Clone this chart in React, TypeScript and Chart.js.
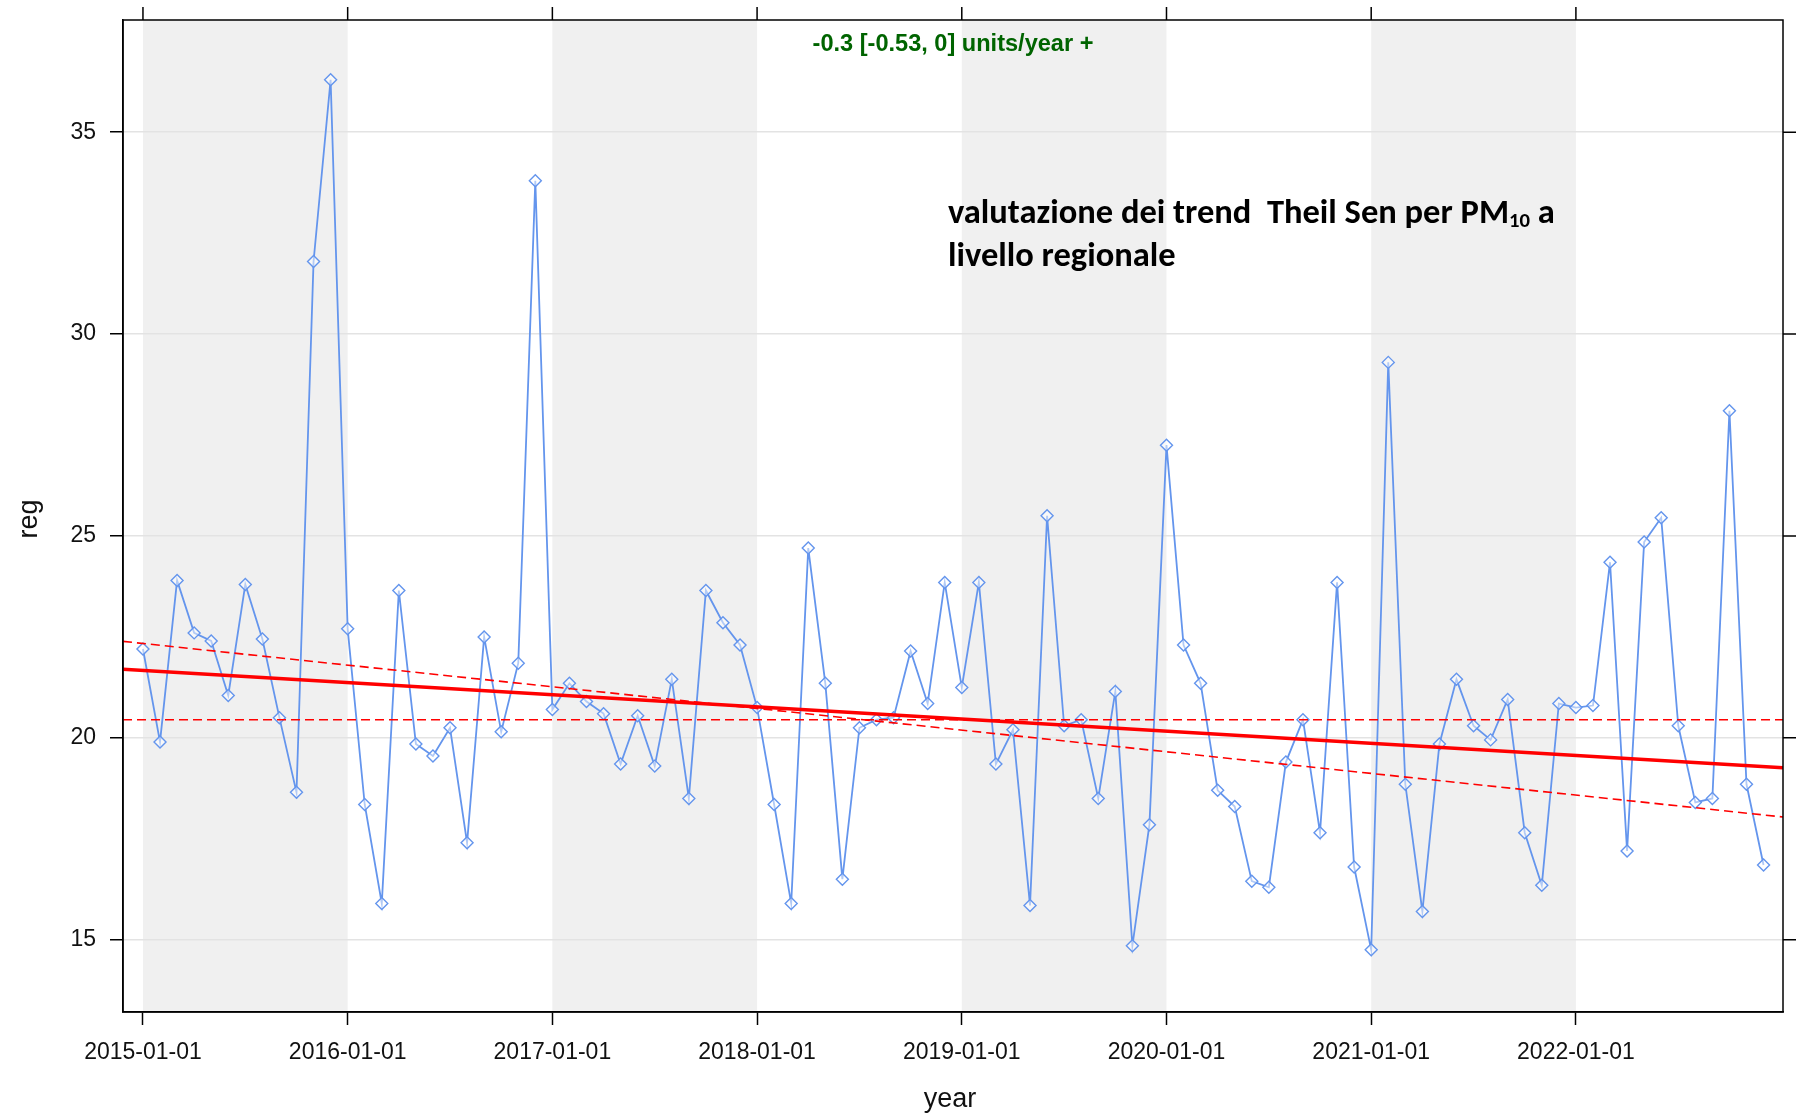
import React, { useEffect, useRef } from 'react';
import { Chart, registerables } from 'chart.js';

Chart.register(...registerables);

// ---- data ----
const years = ['2015', '2016', '2017', '2018', '2019', '2020', '2021', '2022'];
const monthNames = ['01', '02', '03', '04', '05', '06', '07', '08', '09', '10', '11', '12'];

const reg2015 = [22.2, 19.9, 23.9, 22.6, 22.4, 21.05, 23.8, 22.45, 20.5, 18.65, 31.8, 36.3];
const reg2016 = [22.7, 18.35, 15.9, 23.65, 19.85, 19.55, 20.25, 17.4, 22.5, 20.15, 21.85, 33.8];
const reg2017 = [20.7, 21.35, 20.9, 20.6, 19.35, 20.55, 19.3, 21.45, 18.5, 23.65, 22.85, 22.3];
const reg2018 = [20.75, 18.35, 15.9, 24.7, 21.35, 16.5, 20.25, 20.45, 20.5, 22.15, 20.85, 23.85];
const reg2019 = [21.25, 23.85, 19.35, 20.2, 15.85, 25.5, 20.3, 20.45, 18.5, 21.15, 14.85, 17.85];
const reg2020 = [27.25, 22.3, 21.35, 18.7, 18.3, 16.45, 16.3, 19.4, 20.45, 17.65, 23.85, 16.8];
const reg2021 = [14.75, 29.3, 18.85, 15.7, 19.85, 21.45, 20.3, 19.95, 20.95, 17.65, 16.35, 20.85];
const reg2022 = [20.75, 20.8, 24.35, 17.2, 24.85, 25.45, 20.3, 18.4, 18.5, 28.1, 18.85, 16.85];

const regValues = [...reg2015, ...reg2016, ...reg2017, ...reg2018, ...reg2019, ...reg2020, ...reg2021, ...reg2022];
const monthLabels = years.flatMap((y) => monthNames.map((m) => `${y}-${m}`));

const xTickLabels = ['2015-01-01', '2016-01-01', '2017-01-01', '2018-01-01', '2019-01-01', '2020-01-01', '2021-01-01', '2022-01-01'];
const yTicks = [15, 20, 25, 30, 35];
const shadedYears = ['2015', '2017', '2019', '2021'];

// Theil-Sen trend lines: values at the left and right panel edges
const trendFit = [21.7, 19.26];
const trendSlopeLow = [22.39, 18.04];
const trendSlopeHigh = [20.45, 20.45];

const trendLabel = '-0.3 [-0.53, 0] units/year +';
const noteLine1a = 'valutazione dei trend  Theil Sen per PM';
const noteSub = '10';
const noteLine1b = ' a';
const noteLine2 = 'livello regionale';
const xAxisTitle = 'year';
const yAxisTitle = 'reg';

// axis extents (months since Jan 2015, concentration)
const xMin = -1.17;
const xMax = 96.14;
const yMin = 13.21;
const yMax = 37.78;

const SANS = '"Liberation Sans", Arial, sans-serif';
const NOTE_FONT = 'Carlito, Lato, "Open Sans", sans-serif';

const decorPlugin = {
  id: 'decor',
  beforeDraw(chart: any) {
    const { ctx, chartArea: a, scales } = chart;
    const x = scales.x;
    ctx.save();
    ctx.fillStyle = '#ffffff';
    ctx.fillRect(0, 0, chart.width, chart.height);
    ctx.fillStyle = '#f0f0f0';
    shadedYears.forEach((yr) => {
      const i0 = monthLabels.indexOf(`${yr}-01`);
      const x0 = Math.max(x.getPixelForValue(i0), a.left);
      const x1 = Math.min(x.getPixelForValue(i0 + 12), a.right);
      ctx.fillRect(x0, a.top, x1 - x0, a.bottom - a.top);
    });
    ctx.restore();
  },
  afterDraw(chart: any) {
    const { ctx, chartArea: a, scales } = chart;
    const x = scales.x;
    const y = scales.y;
    ctx.save();
    // frame
    ctx.strokeStyle = '#000';
    ctx.lineWidth = 1.5;
    ctx.strokeRect(a.left, a.top, a.right - a.left, a.bottom - a.top);
    // top and right tick marks
    ctx.beginPath();
    x.ticks.forEach((t: any) => {
      const px = x.getPixelForValue(t.value);
      ctx.moveTo(px, a.top);
      ctx.lineTo(px, a.top - 13);
    });
    y.ticks.forEach((t: any) => {
      const py = y.getPixelForValue(t.value);
      ctx.moveTo(a.right, py);
      ctx.lineTo(a.right + 13, py);
    });
    ctx.stroke();

    // trend label
    ctx.fillStyle = '#006400';
    ctx.textAlign = 'center';
    ctx.textBaseline = 'middle';
    ctx.font = `bold 100px ${SANS}`;
    const tw = ctx.measureText(trendLabel).width;
    const tfs = (100 * 281) / tw;
    ctx.font = `bold ${tfs}px ${SANS}`;
    ctx.fillText(trendLabel, (a.left + a.right) / 2, 44);

    // annotation
    ctx.fillStyle = '#000';
    ctx.textAlign = 'left';
    ctx.textBaseline = 'alphabetic';
    ctx.font = `bold 100px ${NOTE_FONT}`;
    const wa = ctx.measureText(noteLine1a).width;
    const wb = ctx.measureText(noteLine1b).width;
    ctx.font = `bold 60px ${NOTE_FONT}`;
    const ws = ctx.measureText(noteSub).width;
    const nfs = (100 * 607) / (wa + wb + ws);
    const nx = 948;
    const b1 = 223;
    const b2 = 266;
    ctx.font = `bold ${nfs}px ${NOTE_FONT}`;
    ctx.fillText(noteLine1a, nx, b1);
    const pa = ctx.measureText(noteLine1a).width;
    ctx.font = `bold ${nfs * 0.6}px ${NOTE_FONT}`;
    ctx.fillText(noteSub, nx + pa, b1 + nfs * 0.12);
    const ps = ctx.measureText(noteSub).width;
    ctx.font = `bold ${nfs}px ${NOTE_FONT}`;
    ctx.fillText(noteLine1b, nx + pa + ps, b1);
    ctx.fillText(noteLine2, nx, b2);

    // axis titles
    ctx.fillStyle = '#111';
    ctx.font = `27px ${SANS}`;
    ctx.textAlign = 'center';
    ctx.textBaseline = 'middle';
    ctx.fillText(xAxisTitle, (a.left + a.right) / 2 - 3, 1100);
    ctx.translate(30, 519);
    ctx.rotate(-Math.PI / 2);
    ctx.fillText(yAxisTitle, 0, 0);
    ctx.restore();
  },
};

export default function App() {
  const canvasRef = useRef<HTMLCanvasElement | null>(null);

  useEffect(() => {
    document.body.style.margin = '0';
    document.body.style.overflow = 'hidden';
    const canvas = canvasRef.current;
    if (!canvas) return;

    const trendDataset = (vals: number[], width: number, dash: number[]) => ({
      data: [
        { x: xMin, y: vals[0] },
        { x: xMax, y: vals[1] },
      ],
      borderColor: '#ff0000',
      borderWidth: width,
      borderDash: dash,
      pointRadius: 0,
      fill: false,
    });

    const chart = new Chart(canvas, {
      type: 'line',
      data: {
        datasets: [
          { ...trendDataset(trendFit, 3.5, []), order: 0 },
          { ...trendDataset(trendSlopeLow, 1.6, [9, 5]), order: 1 },
          { ...trendDataset(trendSlopeHigh, 1.6, [9, 5]), order: 2 },
          {
            data: regValues.map((v, i) => ({ x: i, y: v })),
            borderColor: '#6495ED',
            borderWidth: 1.8,
            pointStyle: 'rectRot',
            pointRadius: 6,
            pointBorderWidth: 1.4,
            pointBorderColor: '#6495ED',
            pointBackgroundColor: 'rgba(255,255,255,0.5)',
            tension: 0,
            fill: false,
            order: 5,
          },
        ],
      },
      options: {
        animation: false,
        responsive: false,
        layout: { padding: { top: 20, right: 16, left: 0, bottom: 0 } },
        plugins: {
          legend: { display: false },
          tooltip: { enabled: false },
          title: { display: false },
        },
        scales: {
          x: {
            type: 'linear',
            min: xMin,
            max: xMax,
            afterBuildTicks: (s: any) => {
              s.ticks = years.map((yr) => ({ value: monthLabels.indexOf(`${yr}-01`) }));
            },
            afterFit: (s: any) => {
              s.height = 102;
              s.paddingLeft = 0;
              s.paddingRight = 0;
            },
            ticks: {
              autoSkip: false,
              maxRotation: 0,
              padding: 14,
              color: '#111',
              font: { family: SANS, size: 23 },
              callback: (v: any) => {
                const lbl = monthLabels[Math.round(Number(v))];
                return lbl ? xTickLabels[years.indexOf(lbl.slice(0, 4))] : '';
              },
            },
            grid: {
              drawOnChartArea: false,
              drawTicks: true,
              tickLength: 13,
              tickColor: '#000',
              tickWidth: 1.5,
            },
            border: { display: true, color: '#000', width: 1.5 },
          },
          y: {
            type: 'linear',
            min: yMin,
            max: yMax,
            afterBuildTicks: (s: any) => {
              s.ticks = yTicks.map((v) => ({ value: v }));
            },
            afterFit: (s: any) => {
              s.width = 123;
              s.paddingTop = 0;
              s.paddingBottom = 0;
            },
            ticks: {
              padding: 14,
              color: '#111',
              font: { family: SANS, size: 23 },
              callback: (v: any) => String(v),
            },
            grid: {
              color: '#e3e3e3',
              lineWidth: 1.5,
              drawTicks: true,
              tickLength: 13,
              tickColor: '#000',
              tickWidth: 1.5,
            },
            border: { display: true, color: '#000', width: 1.5 },
          },
        },
      },
      plugins: [decorPlugin],
    } as any);

    return () => {
      chart.destroy();
    };
  }, []);

  return (
    <div style={{ width: 1799, height: 1114, position: 'relative' }}>
      <canvas ref={canvasRef} width={1799} height={1114} style={{ display: 'block', width: 1799, height: 1114 }} />
    </div>
  );
}
